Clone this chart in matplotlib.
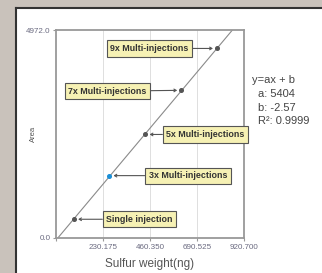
import numpy as np
import matplotlib
matplotlib.use("Agg")
import matplotlib.pyplot as plt
from matplotlib.patches import Rectangle

# data
labels = ["Single injection", "3x Multi-injections", "5x Multi-injections",
          "7x Multi-injections", "9x Multi-injections"]
weights = [88, 261, 438, 614, 789]
areas = [448, 1491, 2475, 3530, 4531]
label_x = [409, 646, 732, 252, 458]
label_y = [448, 1491, 2475, 3510, 4531]
point_colors = ["#555555", "#1a8fd8", "#555555", "#555555", "#555555"]

xticks = [0, 230.175, 460.350, 690.525, 920.700]
xtick_labels = ["", "230.175", "460.350", "690.525", "920.700"]
yticks = [0, 4972.0]
ytick_labels = ["0.0", "4972.0"]
fit_lines = ["y=ax + b", "a: 5404", "b: -2.57", "R²: 0.9999"]

plt.rcParams['font.family'] = ['Liberation Sans', 'DejaVu Sans']

fig = plt.figure(figsize=(3.22, 2.73), dpi=100)
fig.patch.set_facecolor("#c9c2bb")
# white panel with dark border on left/top
fig.add_artist(Rectangle((16/322, 0), 1, (273-8)/273, transform=fig.transFigure,
                         facecolor="white", edgecolor="none", zorder=-5))
fig.add_artist(plt.Line2D([16/322, 16/322], [0, (273-8)/273], color="#333333", lw=1.5,
                          transform=fig.transFigure, zorder=-4))
fig.add_artist(plt.Line2D([16/322, 1], [(273-8)/273, (273-8)/273], color="#333333", lw=1.5,
                          transform=fig.transFigure, zorder=-4))

ax = fig.add_axes([56/322, 35/273, 188/322, 208/273])
ax.set_facecolor("white")
ax.set_xlim(0, 920.7)
ax.set_ylim(0, 4972.0)

for s in ax.spines.values():
    s.set_color("#999999")
    s.set_linewidth(1.3)

ax.set_xticks(xticks)
ax.set_xticklabels(xtick_labels)
ax.set_yticks(yticks)
ax.set_yticklabels(ytick_labels)
ax.tick_params(labelsize=5.8, colors="#999999", labelcolor="#6a6a80", length=2, pad=2)
for t in xticks[1:-1]:
    ax.axvline(t, color="#dedede", lw=0.7, zorder=0)

# fit line
a, b = np.polyfit(weights, areas, 1)
x_end = (4972.0 - b) / a
ax.plot([0, x_end], [b, 4972.0], color="#8a8a8a", lw=0.8, zorder=1)

for w, ar, c in zip(weights, areas, point_colors):
    ax.plot(w, ar, 'o', ms=2.6, color=c, zorder=3)

for lab, lx, ly, w, ar in zip(labels, label_x, label_y, weights, areas):
    ax.annotate(lab, xy=(w, ar), xytext=(lx, ly), fontsize=6.4, fontweight="bold",
                color="#333333", ha="center", va="center", annotation_clip=False,
                bbox=dict(boxstyle="square,pad=0.4", fc="#f6f1b4", ec="#555555", lw=0.8),
                arrowprops=dict(arrowstyle="->,head_length=0.25,head_width=0.15",
                                color="#555555", lw=0.8, shrinkA=0, shrinkB=3),
                zorder=5)

ax.set_ylabel("Area", fontsize=5.5, color="#555555")
ax.yaxis.set_label_coords(-0.10, 0.5)
ax.set_xlabel("Sulfur weight(ng)", fontsize=8.5, color="#555555", labelpad=5)

fig.text(252/322, 1 - 75/273, fit_lines[0], fontsize=8, color="#444444",
         ha="left", va="top")
fig.text(258/322, 1 - 89/273, "\n".join(fit_lines[1:]), fontsize=8, color="#444444",
         ha="left", va="top", linespacing=1.45)

fig.savefig("out.png", dpi=100, facecolor=fig.get_facecolor())
